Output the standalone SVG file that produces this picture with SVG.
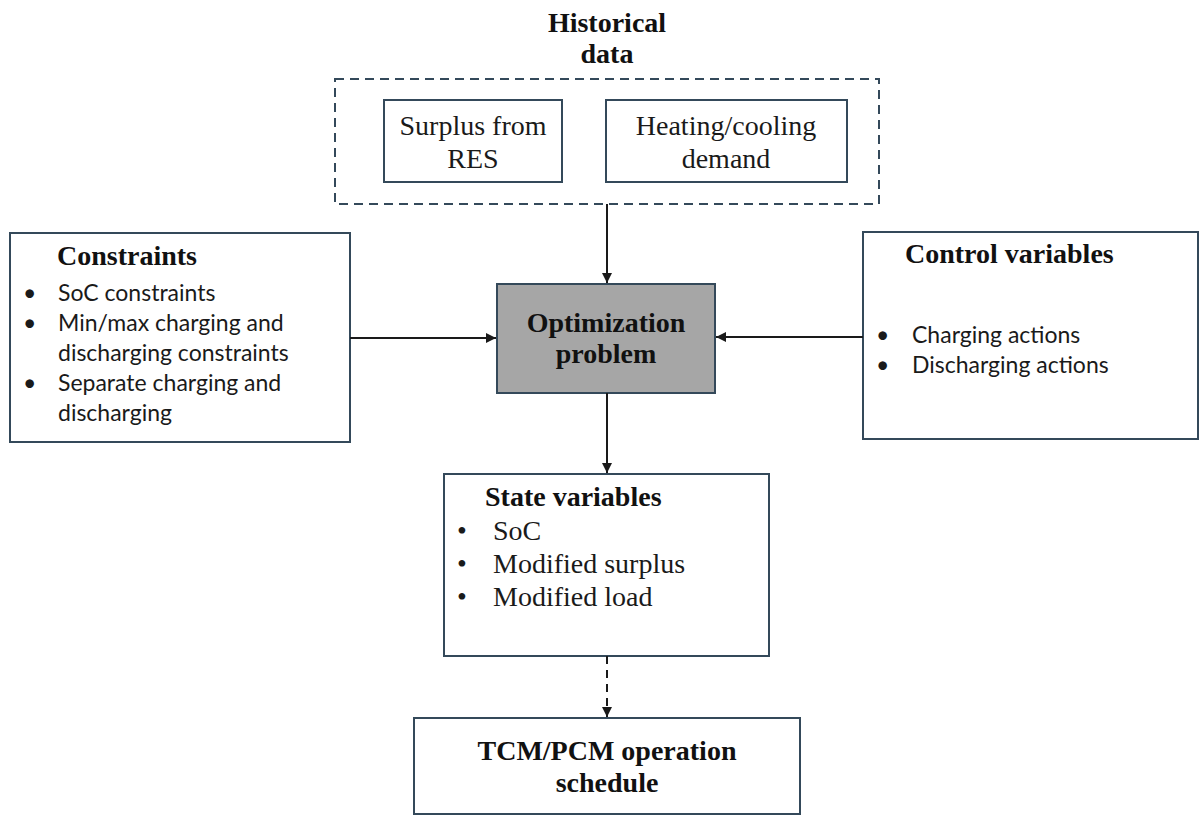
<svg xmlns="http://www.w3.org/2000/svg" width="1203" height="816" viewBox="0 0 1203 816">
<defs>
<style>
.box{fill:#ffffff;stroke:#34495a;stroke-width:2}
.opt{fill:#a6a6a6;stroke:#34495a;stroke-width:2}
.dash{fill:none;stroke:#34495a;stroke-width:2;stroke-dasharray:9 6}
.line{stroke:#1a1a1a;stroke-width:2;fill:none}
.dline{stroke:#1a1a1a;stroke-width:2;fill:none;stroke-dasharray:8 6}
.hb{font-family:"Liberation Serif","Times New Roman",serif;font-weight:bold;font-size:28px;fill:#111}
.sr{font-family:"Liberation Serif","Times New Roman",serif;font-size:28px;fill:#1a1a1a}
.ss{font-family:Lato,"Liberation Sans",sans-serif;font-size:23px;fill:#1a1a1a}
.mid{text-anchor:middle}
</style>
<marker id="ah" viewBox="0 0 10 10" refX="10" refY="5" markerWidth="5" markerHeight="5" orient="auto" markerUnits="strokeWidth">
<path d="M0,0 L10,5 L0,10 z" fill="#1a1a1a"/>
</marker>
</defs>

<g id="historical-data">
<text class="hb mid" x="607" y="32">Historical</text>
<text class="hb mid" x="607" y="63">data</text>
<rect class="dash" x="335" y="79" width="544" height="125"/>
</g>

<g id="surplus">
<rect class="box" x="384" y="100" width="178" height="82"/>
<text class="sr mid" x="473" y="135">Surplus from</text>
<text class="sr mid" x="473" y="168">RES</text>
</g>

<g id="heating">
<rect class="box" x="606" y="100" width="241" height="82"/>
<text class="sr mid" x="726" y="135">Heating/cooling</text>
<text class="sr mid" x="726" y="168">demand</text>
</g>

<g id="constraints">
<rect class="box" x="10" y="233" width="340" height="209"/>
<text class="hb" x="57" y="265">Constraints</text>
<text class="ss" x="23" y="301">•</text>
<text class="ss" x="58" y="301">SoC constraints</text>
<text class="ss" x="23" y="331">•</text>
<text class="ss" x="58" y="331">Min/max charging and</text>
<text class="ss" x="58" y="361">discharging constraints</text>
<text class="ss" x="23" y="391">•</text>
<text class="ss" x="58" y="391">Separate charging and</text>
<text class="ss" x="58" y="421">discharging</text>
</g>

<g id="control-variables">
<rect class="box" x="863" y="232" width="335" height="207"/>
<text class="hb" x="905" y="263">Control variables</text>
<text class="ss" x="876" y="343">•</text>
<text class="ss" x="912" y="343">Charging actions</text>
<text class="ss" x="876" y="373">•</text>
<text class="ss" x="912" y="373">Discharging actions</text>
</g>

<g id="optimization">
<rect class="opt" x="497" y="284" width="218" height="109"/>
<text class="hb mid" x="606" y="332">Optimization</text>
<text class="hb mid" x="606" y="363">problem</text>
</g>

<g id="state-variables">
<rect class="box" x="444" y="474" width="325" height="182"/>
<text class="hb" x="485" y="506">State variables</text>
<text class="sr" x="457" y="540">•</text>
<text class="sr" x="493" y="540">SoC</text>
<text class="sr" x="457" y="573">•</text>
<text class="sr" x="493" y="573">Modified surplus</text>
<text class="sr" x="457" y="606">•</text>
<text class="sr" x="493" y="606">Modified load</text>
</g>

<g id="schedule">
<rect class="box" x="414" y="718" width="386" height="96"/>
<text class="hb mid" x="607" y="760">TCM/PCM operation</text>
<text class="hb mid" x="607" y="792">schedule</text>
</g>

<g id="connectors">
<line class="line" x1="607" y1="204" x2="607" y2="283" marker-end="url(#ah)"/>
<line class="line" x1="350" y1="338" x2="496" y2="338" marker-end="url(#ah)"/>
<line class="line" x1="863" y1="337" x2="716" y2="337" marker-end="url(#ah)"/>
<line class="line" x1="607" y1="393" x2="607" y2="473" marker-end="url(#ah)"/>
<line class="dline" x1="607" y1="656" x2="607" y2="717" marker-end="url(#ah)"/>
</g>
</svg>
